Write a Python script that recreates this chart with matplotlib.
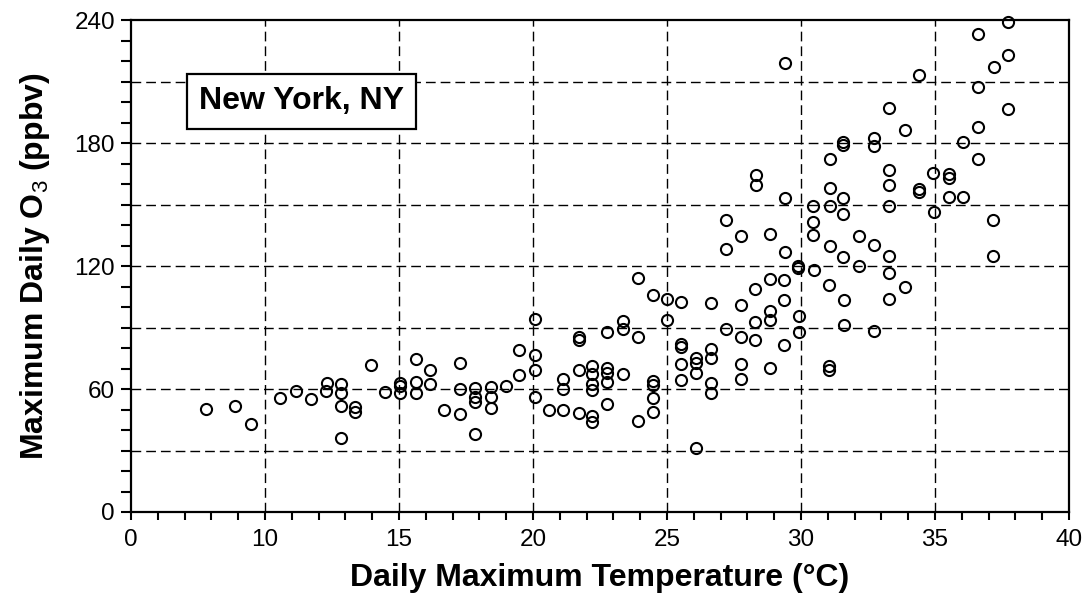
import matplotlib
matplotlib.use("Agg")
import matplotlib.pyplot as plt
from matplotlib.ticker import MultipleLocator, FixedLocator, FixedFormatter

plt.rcParams['font.family'] = ['Liberation Sans', 'DejaVu Sans']
plt.rcParams['mathtext.fontset'] = 'custom'
plt.rcParams['mathtext.rm'] = 'Liberation Sans'
plt.rcParams['mathtext.bf'] = 'Liberation Sans:bold'

# Daily maximum temperature (°C)
temperature = [
    7.80, 8.88, 9.48, 10.55, 11.17, 11.70, 12.31, 12.29, 12.82, 12.82, 12.82, 12.82, 13.37, 13.37, 13.97,
    14.48, 15.04, 15.04, 15.04, 15.62, 15.62, 15.62, 16.16, 16.16, 16.68, 17.28, 17.28, 17.28,
    17.84, 17.84, 17.84, 17.84, 18.42, 18.42, 18.42, 18.98, 19.47, 19.47, 20.06, 20.06, 20.06, 20.06,
    20.61, 21.13, 21.13, 21.13, 21.72, 21.72, 21.72, 21.72, 22.22, 22.22, 22.22, 22.22, 22.22, 22.22,
    22.75, 22.75, 22.75, 22.75, 22.75,
    23.34, 23.34, 23.34, 23.92, 23.92, 23.92, 24.47, 24.47, 24.47, 24.47, 24.47, 25.01, 25.01,
    25.51, 25.51, 25.51, 25.51, 25.51, 26.10, 26.10, 26.10, 26.10, 26.63, 26.63, 26.63, 26.63, 26.63,
    27.19, 27.76, 27.76, 27.76, 27.76, 28.29, 28.29, 28.29, 28.83, 28.83, 28.83, 28.83,
    29.38, 29.38, 29.38, 29.90, 29.90, 29.93, 29.93, 30.50, 31.05, 31.05, 31.05, 31.61, 31.61,
    27.19, 27.19, 27.76, 28.32, 28.32, 28.84, 29.41, 29.41, 30.46, 30.46, 30.46,
    31.08, 31.08, 31.08, 31.08, 31.58, 31.58, 31.58, 31.58, 31.58, 32.17, 32.17,
    32.73, 32.73, 32.73, 32.73,
    37.74, 36.62, 37.74, 37.22, 34.42, 36.62, 33.28, 37.74, 33.88, 36.62, 36.04, 36.62, 33.28,
    34.91, 35.53, 35.53, 33.28, 34.42, 34.42, 35.53, 36.06, 33.28, 34.96, 37.17, 33.28, 37.17, 33.28,
    29.40, 33.28, 33.88,
]

# Maximum daily O3 (ppbv)
ozone = [
    50.2, 51.8, 43.0, 55.8, 58.8, 55.2, 62.9, 58.8, 62.4, 58.0, 51.8, 36.0, 51.0, 48.7, 71.5,
    58.6, 62.9, 61.6, 58.0, 74.7, 63.5, 58.0, 69.4, 62.5, 49.8, 72.9, 60.1, 47.9,
    60.4, 56.3, 53.9, 38.0, 61.2, 56.0, 50.5, 61.7, 78.8, 66.6, 94.1, 76.5, 69.2, 56.3,
    49.7, 64.8, 60.1, 49.8, 85.3, 83.9, 69.4, 48.5, 71.0, 67.3, 62.5, 59.3, 46.9, 43.8,
    87.9, 70.2, 67.8, 63.2, 52.8,
    93.0, 89.4, 67.4, 114.0, 85.3, 44.6, 105.7, 64.1, 62.0, 55.5, 48.9, 103.9, 93.6,
    102.3, 82.1, 80.5, 72.1, 64.5, 75.1, 72.6, 67.8, 31.4, 102.0, 79.6, 74.9, 62.9, 58.0,
    89.2, 101.1, 85.3, 72.1, 65.1, 108.8, 92.7, 84.0, 113.8, 97.9, 93.8, 70.2,
    113.0, 103.2, 81.6, 120.2, 119.0, 95.4, 87.6, 118.2, 110.9, 71.0, 69.4, 103.2, 91.4,
    142.3, 128.3, 134.5, 164.3, 159.3, 135.5, 153.2, 126.7, 149.5, 141.7, 135.3,
    172.3, 158.1, 149.3, 129.9, 180.4, 178.8, 153.1, 145.6, 124.2, 134.8, 120.2,
    182.6, 178.5, 130.4, 88.4,
    239.0, 233.0, 222.8, 217.0, 213.0, 207.3, 197.2, 196.4, 186.3, 187.7, 180.6, 172.3, 166.6,
    165.5, 165.1, 163.0, 159.4, 157.6, 156.0, 153.9, 153.9, 149.5, 146.2, 142.3, 125.0, 124.7, 116.6,
    219.0, 104.0, 110.0,
]

x_tick_pos = [5, 10, 15, 20, 25, 30, 35, 40]
x_tick_labels = ["0", "10", "15", "20", "25", "30", "35", "40"]
y_tick_pos = [0, 60, 120, 180, 240]
x_grid = [10, 15, 20, 25, 30, 35]
y_grid = [30, 60, 90, 120, 150, 180, 210]

fig = plt.figure(figsize=(10.91, 6.02), dpi=100)
ax = fig.add_axes([131/1091, 1 - 512/602, (1069 - 131)/1091, (512 - 20)/602])

for gx in x_grid:
    ax.axvline(gx, color='black', lw=1.0, dashes=(7, 3.6), zorder=1)
for gy in y_grid:
    ax.axhline(gy, color='black', lw=1.0, dashes=(7, 3.6), zorder=1)

ax.plot(temperature, ozone, linestyle='none', marker='o', ms=8.0, mfc='none',
        mec='black', mew=1.5, zorder=3, clip_on=False)

ax.set_xlim(5, 40)
ax.set_ylim(0, 240)

ax.xaxis.set_major_locator(FixedLocator(x_tick_pos))
ax.xaxis.set_major_formatter(FixedFormatter(x_tick_labels))
ax.xaxis.set_minor_locator(MultipleLocator(1))
ax.yaxis.set_major_locator(FixedLocator(y_tick_pos))
ax.yaxis.set_minor_locator(MultipleLocator(10))

ax.tick_params(axis='both', which='both', direction='out', width=1.5, color='black',
               labelsize=17.5, top=False, right=False)
ax.tick_params(axis='x', which='both', length=6, pad=6)
ax.tick_params(axis='y', which='both', length=7.5, pad=4)

for sp in ax.spines.values():
    sp.set_linewidth(1.6)
    sp.set_color('black')

ax.set_xlabel("Daily Maximum Temperature (°C)", fontsize=23, fontweight='bold', labelpad=9)
ax.set_ylabel(r"Maximum Daily O$_{\mathrm{3}}$ (ppbv)", fontsize=23, fontweight='bold', labelpad=16)

ax.text(11.36, 200.3, "New York, NY", fontsize=23, fontweight='bold', ha='center', va='center',
        zorder=5,
        bbox=dict(boxstyle='square,pad=0.38', facecolor='white', edgecolor='black', linewidth=1.6))

fig.savefig("out.png", dpi=100)
